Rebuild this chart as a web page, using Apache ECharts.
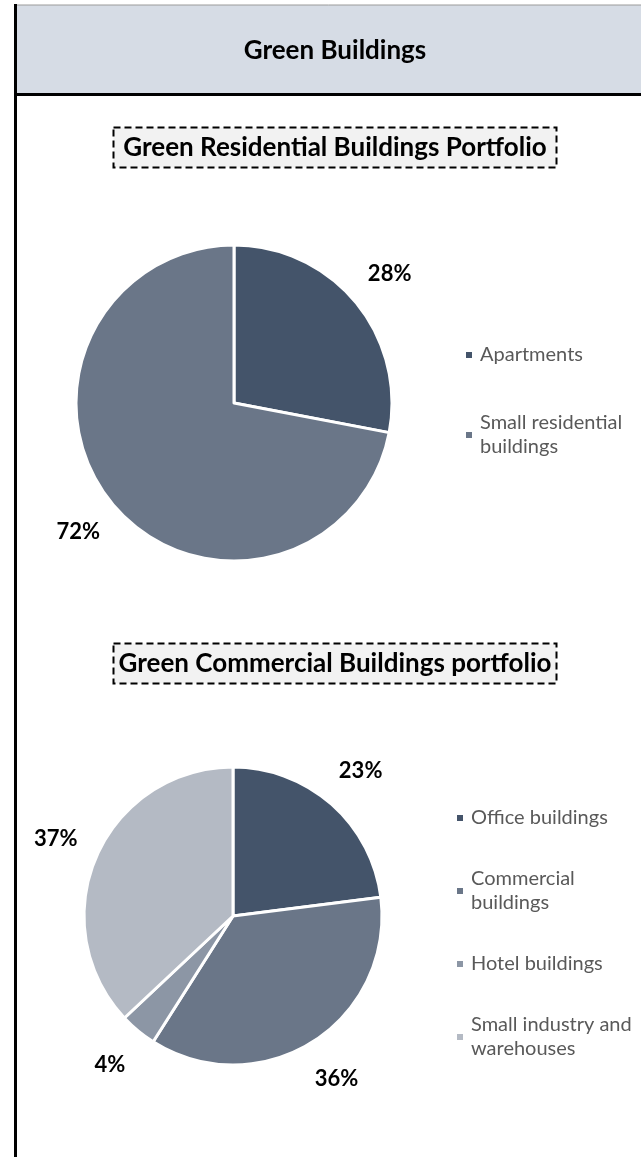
<!DOCTYPE html>
<html>
<head>
<meta charset="utf-8">
<title>Green Buildings</title>
<script src="https://cdn.jsdelivr.net/npm/echarts@6/dist/echarts.min.js"></script>
<style>
  html, body { margin: 0; padding: 0; background: #ffffff; }
  #main { width: 641px; height: 1157px; }
</style>
</head>
<body>
<div id="main"></div>
<script>
// residential portfolio
var resNames = ["Apartments", "Small residential buildings"];
var resLegend = ["Apartments", "Small residential\nbuildings"];
var resValues = [28, 72];

// commercial portfolio
var comNames = ["Office buildings", "Commercial buildings", "Hotel buildings", "Small industry and warehouses"];
var comLegend = ["Office buildings", "Commercial\nbuildings", "Hotel buildings", "Small industry and\nwarehouses"];
var comValues = [23, 36, 4, 37];

var sliceColors = ["#44546a", "#6a7688", "#8c96a5", "#b4bac4"];
var FONT = "Lato, 'Open Sans', sans-serif";

function toData(names, values) {
  return names.map(function (n, i) {
    return { name: n, value: values[i], itemStyle: { color: sliceColors[i] } };
  });
}

function pieSeries(name, data, center, radius) {
  return {
    name: name,
    type: "pie",
    center: center,
    radius: radius,
    startAngle: 90,
    clockwise: true,
    avoidLabelOverlap: false,
    silent: true,
    itemStyle: { borderColor: "#ffffff", borderWidth: 3 },
    label: {
      show: true,
      position: "outside",
      formatter: "{c}%",
      color: "#000000",
      fontFamily: FONT,
      fontWeight: "bold",
      fontSize: 22,
      distanceToLabelLine: 0
    },
    labelLine: { show: false, length: 44, length2: 0 },
    labelLayout: { align: "center", verticalAlign: "middle" },
    data: data
  };
}

function titleBox(text, top) {
  return {
    type: "group",
    children: [
      {
        type: "rect",
        shape: { x: 113.5, y: top + 0.5, width: 443, height: 40 },
        style: { fill: "#f2f2f2", stroke: "#000000", lineWidth: 2, lineDash: [7, 4] }
      },
      {
        type: "text",
        x: 335, y: top + 21,
        style: {
          text: text, fill: "#000000", fontFamily: FONT, fontWeight: "bold",
          fontSize: 26, align: "center", verticalAlign: "middle"
        }
      }
    ]
  };
}

function legendOpt(names, labels, left, top, gap) {
  return {
    orient: "vertical",
    left: left, top: top,
    padding: 0,
    icon: "rect", itemWidth: 8, itemHeight: 8, itemGap: gap,
    selectedMode: false,
    data: names,
    formatter: function (n) { return labels[names.indexOf(n)]; },
    textStyle: { color: "#595959", fontFamily: FONT, fontSize: 20, lineHeight: 24, padding: [0, 0, 0, 2] }
  };
}

var myChart = echarts.init(document.getElementById("main"), null, { renderer: "canvas" });

var option = {
  animation: false,
  backgroundColor: "#ffffff",
  graphic: [
    // header band
    {
      type: "rect",
      shape: { x: 15, y: 5, width: 640, height: 89 },
      style: { fill: "#d6dce5", stroke: "#9a9a9a", lineWidth: 1 }
    },
    {
      type: "line",
      shape: { x1: 14, y1: 94.5, x2: 641, y2: 94.5 },
      style: { stroke: "#000000", lineWidth: 3 }
    },
    {
      type: "line",
      shape: { x1: 15.5, y1: 4, x2: 15.5, y2: 1157 },
      style: { stroke: "#000000", lineWidth: 3 }
    },
    {
      type: "text",
      x: 335, y: 51,
      style: {
        text: "Green Buildings", fill: "#000000", fontFamily: FONT, fontWeight: "bold",
        fontSize: 26, align: "center", verticalAlign: "middle"
      }
    },
    titleBox("Green Residential Buildings Portfolio", 127),
    titleBox("Green Commercial Buildings portfolio", 643)
  ],
  legend: [
    legendOpt(resNames, resLegend, 464, 343, 44),
    legendOpt(comNames, comLegend, 455, 806, 37)
  ],
  series: [
    pieSeries("Residential", toData(resNames, resValues), [234, 403], 158),
    pieSeries("Commercial", toData(comNames, comValues), [233, 916], 149)
  ]
};

myChart.setOption(option);
</script>
</body>
</html>
